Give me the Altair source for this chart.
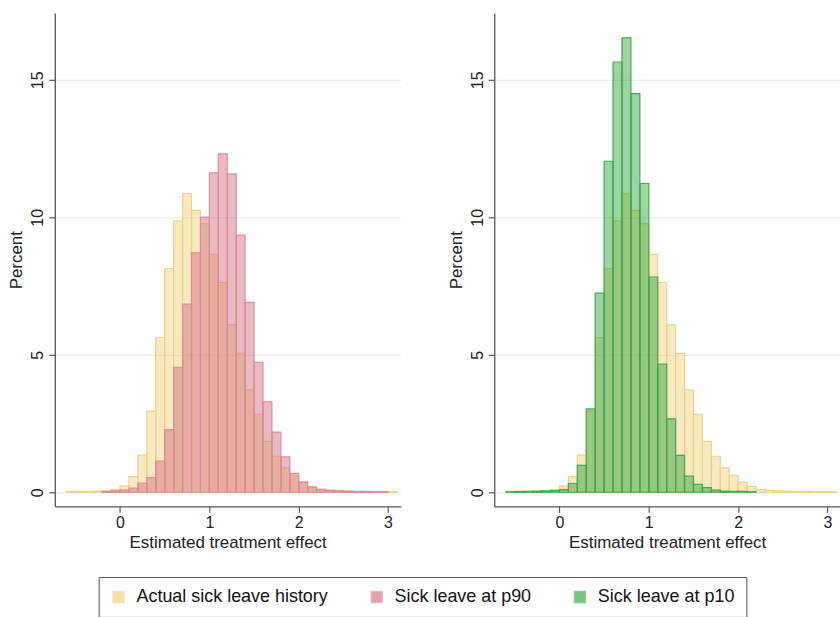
import altair as alt
import pandas as pd

# Histogram bins: width 0.1, left edges from -0.6 to 3.0
BIN_WIDTH = 0.1
BIN_START = [round(-0.6 + 0.1 * i, 1) for i in range(37)]

# Percent of estimates per bin
ACTUAL = [0.03, 0.03, 0.03, 0.04, 0.05, 0.10, 0.23, 0.57, 1.35, 2.95,
          5.63, 8.14, 9.87, 10.86, 10.25, 9.77, 8.65, 7.63, 6.09, 5.05,
          3.73, 2.83, 1.85, 1.31, 0.89, 0.62, 0.37, 0.21, 0.11, 0.07,
          0.05, 0.04, 0.03, 0.03, 0.02, 0.02, 0.02]
P90 = [0.0, 0.0, 0.0, 0.0, 0.03, 0.05, 0.08, 0.15, 0.33, 0.53,
       1.13, 2.28, 4.54, 6.84, 8.71, 10.01, 11.62, 12.31, 11.58, 9.35,
       6.91, 4.73, 3.29, 2.19, 1.29, 0.69, 0.37, 0.19, 0.11, 0.07,
       0.05, 0.04, 0.03, 0.03, 0.02, 0.02, 0.0]
P10 = [0.02, 0.03, 0.03, 0.04, 0.05, 0.06, 0.10, 0.32, 0.98, 3.03,
       7.24, 12.04, 15.65, 16.53, 14.50, 11.23, 7.83, 4.66, 2.67, 1.34,
       0.59, 0.29, 0.17, 0.08, 0.04, 0.03, 0.03, 0.02, 0.0, 0.0,
       0.0, 0.0, 0.0, 0.0, 0.0, 0.0, 0.0]

SERIES = ["Actual sick leave history", "Sick leave at p90", "Sick leave at p10"]
FILLS = ["#efcf74", "#d0667a", "#239f35"]
STROKES = ["#ecd08a", "#da8a98", "#3aa84a"]

X_TICKS = [0, 1, 2, 3]
Y_TICKS = [0, 5, 10, 15]

FONT = "Liberation Sans"


def frame(pairs):
    rows = []
    for name, values in pairs:
        for start, pct in zip(BIN_START, values):
            if pct > 0:
                rows.append({"series": name, "start": start,
                             "end": round(start + BIN_WIDTH, 2), "pct": pct})
    return pd.DataFrame(rows)


left_df = frame([(SERIES[0], ACTUAL), (SERIES[1], P90)])
right_df = frame([(SERIES[0], ACTUAL), (SERIES[2], P10)])

x_scale = alt.Scale(domain=[-0.73, 3.14], nice=False, zero=False)
y_scale = alt.Scale(domain=[-0.51, 17.43], nice=False, zero=False)

legend_opts = dict(
    title=None, orient="none", direction="horizontal", columns=3,
    legendX=44, legendY=566, symbolType="square", symbolSize=125,
    symbolOpacity=0.6, symbolStrokeWidth=1.2,
    labelFont=FONT, labelFontSize=18, labelColor="#111", labelLimit=0,
    labelOffset=9, columnPadding=39, padding=11,
    strokeColor="#555", fillColor="white",
)


def panel(df):
    return alt.Chart(df).mark_rect(
        fillOpacity=0.45, strokeOpacity=0.95, strokeWidth=1.2
    ).encode(
        x=alt.X("start:Q", scale=x_scale,
                axis=alt.Axis(values=X_TICKS, title="Estimated treatment effect",
                              grid=False, tickSize=6, labelPadding=2, titlePadding=4)),
        x2="end:Q",
        y=alt.Y("pct:Q", scale=y_scale,
                axis=alt.Axis(values=Y_TICKS, title="Percent", grid=True,
                              labelAngle=270, labelAlign="center",
                              labelBaseline="bottom", tickSize=6,
                              labelPadding=3, titlePadding=4)),
        y2=alt.datum(0),
        fill=alt.Fill("series:N", scale=alt.Scale(domain=SERIES, range=FILLS),
                      legend=alt.Legend(**legend_opts)),
        stroke=alt.Stroke("series:N", scale=alt.Scale(domain=SERIES, range=STROKES),
                          legend=alt.Legend(**legend_opts)),
    ).properties(width=347, height=495)


chart = alt.hconcat(panel(left_df), panel(right_df), spacing=47).properties(
    padding={"left": 8, "top": 12, "right": 0, "bottom": 1},
    background="white",
).configure_view(stroke=None).configure_axis(
    labelFont=FONT, titleFont=FONT, labelFontSize=16, titleFontSize=17,
    titleFontWeight="normal", labelColor="#222", titleColor="#222",
    domainColor="#555", tickColor="#555", domainWidth=1.3, tickWidth=1.2,
    gridColor="#e6eef0", gridWidth=1.2,
)

chart.save("out.html", embed_options={"renderer": "svg", "actions": False})
